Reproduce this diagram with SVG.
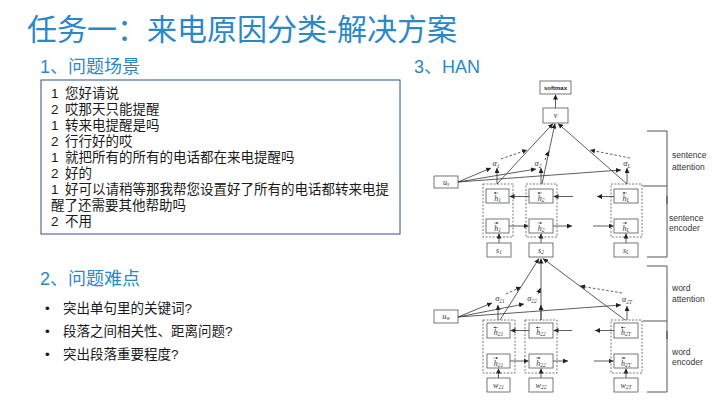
<svg xmlns="http://www.w3.org/2000/svg" width="720" height="405" viewBox="0 0 720 405">
<defs>
<marker id="ah" viewBox="0 0 10 10" refX="10" refY="5" markerWidth="5" markerHeight="5" markerUnits="userSpaceOnUse" orient="auto"><path d="M0,0 L10,5 L0,10 z" fill="#222"/></marker>
<marker id="sm" viewBox="0 0 10 10" refX="10" refY="5" markerWidth="2.2" markerHeight="2.2" markerUnits="userSpaceOnUse" orient="auto"><path d="M0,0 L10,5 L0,10 z" fill="#333"/></marker>
<style>
.ttl{font-family:"Liberation Sans","Noto Sans CJK SC",sans-serif;fill:#2a88c9}
.body{font-family:"Liberation Sans","Noto Sans CJK SC",sans-serif;font-size:13.5px;fill:#1a1a1a}
.ar{stroke:#333;stroke-width:0.8;fill:none;marker-end:url(#ah)}
.da{stroke:#333;stroke-width:0.8;fill:none;stroke-dasharray:2.5 2;marker-end:url(#ah)}
.ov{stroke:#333;stroke-width:0.5;fill:none;marker-end:url(#sm)}
.bx{fill:#fff;stroke:#555;stroke-width:0.8}
.dbx{fill:none;stroke:#555;stroke-width:0.8;stroke-dasharray:2 1.5}
.m{font-family:"Liberation Serif",serif;font-style:italic;font-size:8px;fill:#333;text-anchor:middle}
.sub{font-size:5.5px}
.lbl{font-family:"Liberation Sans",sans-serif;font-size:8.5px;fill:#333}
.brk{stroke:#555;stroke-width:1;fill:none}
</style>
</defs>
<rect width="720" height="405" fill="#fff"/>

<text class="ttl" x="27" y="40" font-size="30">任务一：来电原因分类-解决方案</text>

<g id="scene">
<text class="ttl" x="40" y="73" font-size="18">1、问题场景</text>
<rect x="41" y="80" width="359" height="154" fill="none" stroke="#2f4f8a" stroke-width="1"/>
<text class="body" x="51" y="98">1<tspan x="65">您好请说</tspan></text>
<text class="body" x="51" y="114">2<tspan x="65">哎那天只能提醒</tspan></text>
<text class="body" x="51" y="130">1<tspan x="65">转来电提醒是吗</tspan></text>
<text class="body" x="51" y="146">2<tspan x="65">行行好的哎</tspan></text>
<text class="body" x="51" y="162">1<tspan x="65">就把所有的所有的电话都在来电提醒吗</tspan></text>
<text class="body" x="51" y="178">2<tspan x="65">好的</tspan></text>
<text class="body" x="51" y="194">1<tspan x="65">好可以请稍等那我帮您设置好了所有的电话都转来电提</tspan></text>
<text class="body" x="51" y="210">醒了还需要其他帮助吗</text>
<text class="body" x="51" y="226">2<tspan x="65">不用</tspan></text>
</g>

<g id="difficulty">
<text class="ttl" x="40" y="285" font-size="18">2、问题难点</text>
<text class="body" x="45" y="313">•</text><text class="body" x="63" y="313">突出单句里的关键词?</text>
<text class="body" x="45" y="336">•</text><text class="body" x="63" y="336">段落之间相关性、距离问题?</text>
<text class="body" x="45" y="359">•</text><text class="body" x="63" y="359">突出段落重要程度?</text>
</g>

<text class="ttl" x="414" y="73" font-size="18">3、HAN</text>

<g id="connectors">
<line class="ar" x1="555.5" y1="108" x2="555.5" y2="94.5"/>
<line class="ar" x1="497" y1="184" x2="553" y2="123.5"/>
<line class="ar" x1="542" y1="184" x2="555" y2="123.5"/>
<line class="ar" x1="627" y1="184" x2="558" y2="123.5"/>
<line class="ar" x1="497" y1="184" x2="497" y2="168"/>
<line class="ar" x1="541" y1="184" x2="541" y2="168"/>
<line class="ar" x1="627" y1="184" x2="627" y2="168"/>
<line class="da" x1="501" y1="159" x2="527" y2="150"/>
<line class="da" x1="545" y1="160" x2="549" y2="151"/>
<line class="da" x1="630" y1="158" x2="590" y2="150"/>
<line class="ar" x1="458" y1="182" x2="491" y2="168"/>
<line class="ar" x1="458" y1="182" x2="536" y2="169"/>
<line class="ar" x1="458" y1="182" x2="621" y2="170"/>
<line class="ar" x1="529" y1="196.5" x2="509.5" y2="196.5"/>
<line class="ar" x1="573" y1="196.5" x2="553.5" y2="196.5"/>
<line class="ar" x1="614" y1="196.5" x2="597" y2="196.5"/>
<line class="ar" x1="509" y1="226" x2="528.5" y2="226"/>
<line class="ar" x1="553" y1="226" x2="572" y2="226"/>
<line class="ar" x1="593" y1="226" x2="613.5" y2="226"/>
<line class="ar" x1="499" y1="243" x2="499" y2="233.5"/>
<line class="ar" x1="541" y1="243" x2="541" y2="233.5"/>
<line class="ar" x1="626" y1="243" x2="626" y2="233.5"/>
<line class="ar" x1="500" y1="320" x2="539" y2="258.5"/>
<line class="ar" x1="541" y1="320" x2="541" y2="258.5"/>
<line class="ar" x1="625" y1="320" x2="543" y2="258.5"/>
<line class="ar" x1="498" y1="320" x2="498" y2="305"/>
<line class="ar" x1="541" y1="320" x2="541" y2="305"/>
<line class="ar" x1="627" y1="320" x2="627" y2="306"/>
<line class="da" x1="506" y1="294" x2="521" y2="287"/>
<line class="da" x1="538" y1="294" x2="540.5" y2="288"/>
<line class="da" x1="622" y1="293" x2="580" y2="286"/>
<line class="ar" x1="458" y1="317" x2="492" y2="303"/>
<line class="ar" x1="458" y1="317" x2="524" y2="304"/>
<line class="ar" x1="458" y1="317" x2="621" y2="305"/>
<line class="ar" x1="529" y1="330.5" x2="510.5" y2="330.5"/>
<line class="ar" x1="572" y1="330.5" x2="553.5" y2="330.5"/>
<line class="ar" x1="614" y1="330.5" x2="595" y2="330.5"/>
<line class="ar" x1="510" y1="361" x2="528.5" y2="361"/>
<line class="ar" x1="553" y1="361" x2="568" y2="361"/>
<line class="ar" x1="594" y1="361" x2="613.5" y2="361"/>
<line class="ar" x1="498.5" y1="378" x2="498.5" y2="368.5"/>
<line class="ar" x1="541" y1="378" x2="541" y2="368.5"/>
<line class="ar" x1="626" y1="378" x2="626" y2="368.5"/>
</g>

<g id="softmax"><rect class="bx" x="540" y="81" width="31" height="13"/><text x="555.5" y="90" font-family="Liberation Sans,sans-serif" font-size="6px" font-weight="bold" fill="#222" text-anchor="middle">softmax</text></g>
<g id="v"><rect class="bx" x="543" y="108" width="25" height="15"/><text class="m" x="555.5" y="118">v</text></g>
<g id="us"><rect class="bx" x="434" y="176" width="24" height="12"/><text class="m" x="446" y="184.5">u<tspan class="sub" dy="1.5">s</tspan></text></g>
<g id="alpha1"><text class="m" x="496" y="166">α<tspan class="sub" dy="1.5">1</tspan></text></g>
<g id="alpha2"><text class="m" x="538" y="166">α<tspan class="sub" dy="1.5">2</tspan></text></g>
<g id="alphaL"><text class="m" x="627" y="166">α<tspan class="sub" dy="1.5">L</tspan></text></g>

<g id="sent1">
<rect class="dbx" x="483" y="184" width="30" height="53"/>
<rect class="bx" x="486" y="189" width="23" height="14"/><line class="ov" x1="498.5" y1="193" x2="494" y2="193"/><text class="m" x="497.5" y="200.5">h<tspan class="sub" dy="1">1</tspan></text>
<rect class="bx" x="486" y="219" width="23" height="14"/><line class="ov" x1="494" y1="223" x2="498.5" y2="223"/><text class="m" x="497.5" y="230.5">h<tspan class="sub" dy="1">1</tspan></text>
</g>
<g id="sent2">
<rect class="dbx" x="526" y="184" width="31" height="53"/>
<rect class="bx" x="529" y="189" width="24" height="14"/><line class="ov" x1="542" y1="193" x2="537.5" y2="193"/><text class="m" x="541" y="200.5">h<tspan class="sub" dy="1">2</tspan></text>
<rect class="bx" x="529" y="219" width="24" height="14"/><line class="ov" x1="537.5" y1="223" x2="542" y2="223"/><text class="m" x="541" y="230.5">h<tspan class="sub" dy="1">2</tspan></text>
</g>
<g id="sentL">
<rect class="dbx" x="611" y="184" width="31" height="53"/>
<rect class="bx" x="614" y="189" width="24" height="14"/><line class="ov" x1="627" y1="193" x2="622.5" y2="193"/><text class="m" x="626" y="200.5">h<tspan class="sub" dy="1">L</tspan></text>
<rect class="bx" x="614" y="219" width="24" height="14"/><line class="ov" x1="622.5" y1="223" x2="627" y2="223"/><text class="m" x="626" y="230.5">h<tspan class="sub" dy="1">L</tspan></text>
</g>
<g id="s1"><rect class="bx" x="487" y="243" width="24" height="14"/><text class="m" x="499" y="252.5">s<tspan class="sub" dy="1.5">1</tspan></text></g>
<g id="s2"><rect class="bx" x="529" y="243" width="24" height="14"/><text class="m" x="541" y="252.5">s<tspan class="sub" dy="1.5">2</tspan></text></g>
<g id="sL"><rect class="bx" x="614" y="243" width="24" height="14"/><text class="m" x="626" y="252.5">s<tspan class="sub" dy="1.5">L</tspan></text></g>

<g id="uw"><rect class="bx" x="434" y="310" width="24" height="13"/><text class="m" x="446" y="318.5">u<tspan class="sub" dy="1.5">w</tspan></text></g>
<g id="alpha21"><text class="m" x="500" y="301">α<tspan class="sub" dy="1.5">21</tspan></text></g>
<g id="alpha22"><text class="m" x="532" y="301">α<tspan class="sub" dy="1.5">22</tspan></text></g>
<g id="alpha2T"><text class="m" x="627" y="302">α<tspan class="sub" dy="1.5">2T</tspan></text></g>

<g id="word1">
<rect class="dbx" x="483" y="320" width="32" height="53"/>
<rect class="bx" x="487" y="323" width="23" height="15"/><line class="ov" x1="498" y1="327.5" x2="493.5" y2="327.5"/><text class="m" x="498.5" y="335">h<tspan class="sub" dy="1">21</tspan></text>
<rect class="bx" x="487" y="354" width="23" height="14"/><line class="ov" x1="493.5" y1="358" x2="498" y2="358"/><text class="m" x="498.5" y="365.5">h<tspan class="sub" dy="1">21</tspan></text>
</g>
<g id="word2">
<rect class="dbx" x="525" y="320" width="32" height="53"/>
<rect class="bx" x="529" y="323" width="24" height="15"/><line class="ov" x1="540.5" y1="327.5" x2="536" y2="327.5"/><text class="m" x="541" y="335">h<tspan class="sub" dy="1">22</tspan></text>
<rect class="bx" x="529" y="354" width="24" height="14"/><line class="ov" x1="536" y1="358" x2="540.5" y2="358"/><text class="m" x="541" y="365.5">h<tspan class="sub" dy="1">22</tspan></text>
</g>
<g id="wordT">
<rect class="dbx" x="611" y="320" width="31" height="53"/>
<rect class="bx" x="614" y="323" width="24" height="15"/><line class="ov" x1="625.5" y1="327.5" x2="621" y2="327.5"/><text class="m" x="626" y="335">h<tspan class="sub" dy="1">2T</tspan></text>
<rect class="bx" x="614" y="354" width="24" height="14"/><line class="ov" x1="621" y1="358" x2="625.5" y2="358"/><text class="m" x="626" y="365.5">h<tspan class="sub" dy="1">2T</tspan></text>
</g>
<g id="w21"><rect class="bx" x="487" y="378" width="23" height="14"/><text class="m" x="498.5" y="387.5">w<tspan class="sub" dy="1">21</tspan></text></g>
<g id="w22"><rect class="bx" x="529" y="378" width="24" height="14"/><text class="m" x="541" y="387.5">w<tspan class="sub" dy="1">22</tspan></text></g>
<g id="w2T"><rect class="bx" x="614" y="378" width="24" height="14"/><text class="m" x="626" y="387.5">w<tspan class="sub" dy="1">2T</tspan></text></g>

<g id="brackets">
<path class="brk" d="M647,131 H667 V257 H647 M643,186 H667 M647,266 H667 V392 H647 M643,321 H667"/>
<line x1="667" y1="196" x2="667" y2="204" stroke="#777" stroke-width="2"/>
<line x1="667" y1="331" x2="667" y2="339" stroke="#777" stroke-width="2"/>
<text class="lbl" x="672" y="158">sentence</text>
<text class="lbl" x="672" y="170">attention</text>
<text class="lbl" x="669" y="221">sentence</text>
<text class="lbl" x="669" y="231">encoder</text>
<text class="lbl" x="672" y="291">word</text>
<text class="lbl" x="672" y="302">attention</text>
<text class="lbl" x="672" y="355">word</text>
<text class="lbl" x="672" y="365">encoder</text>
</g>
</svg>
